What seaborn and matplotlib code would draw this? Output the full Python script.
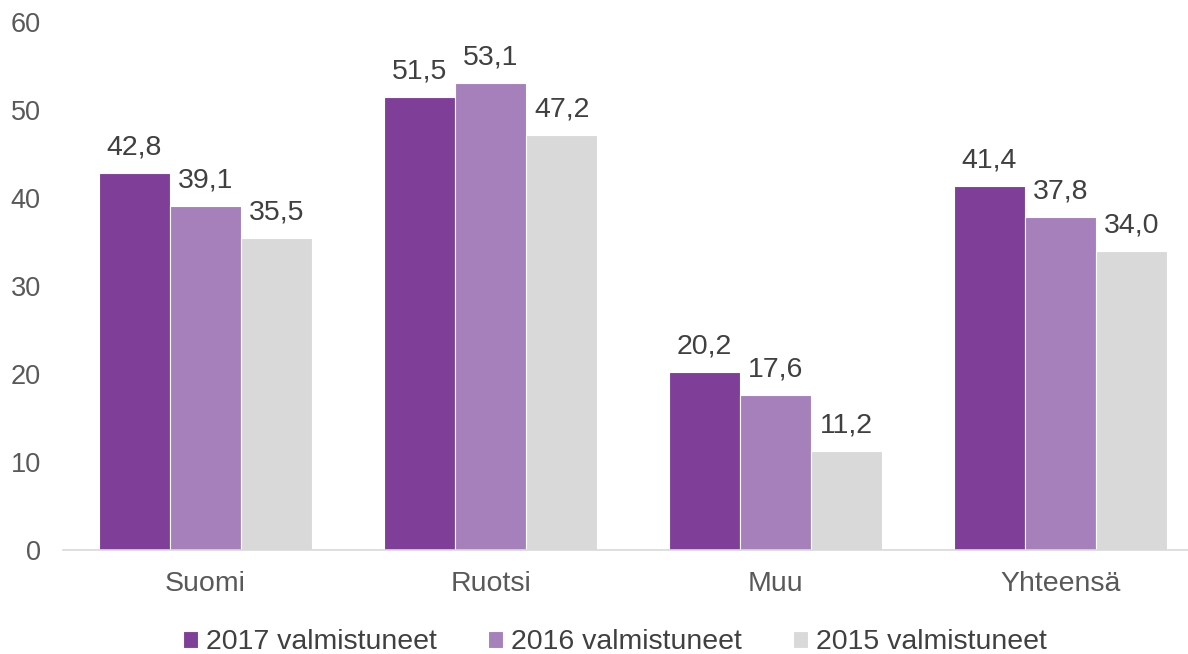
import pandas as pd
import matplotlib.pyplot as plt
import seaborn as sns

categories = ["Suomi", "Ruotsi", "Muu", "Yhteensä"]
series = ["2017 valmistuneet", "2016 valmistuneet", "2015 valmistuneet"]
values_2017 = [42.8, 51.5, 20.2, 41.4]
values_2016 = [39.1, 53.1, 17.6, 37.8]
values_2015 = [35.5, 47.2, 11.2, 34.0]
colors = ["#7F3F98", "#A680BA", "#D9D9D9"]

rows = []
for name, vals in zip(series, [values_2017, values_2016, values_2015]):
    for cat, v in zip(categories, vals):
        rows.append({"kieli": cat, "ryhma": name, "arvo": v})
df = pd.DataFrame(rows)

sns.set_style("white")
plt.rcParams['font.family'] = ['Liberation Sans', 'DejaVu Sans']

fig = plt.figure(figsize=(11.88, 6.54), dpi=100)
ax = fig.add_axes([63 / 1188, 104 / 654, 1 - 63 / 1188, (550 - 22) / 654])

sns.barplot(data=df, x="kieli", y="arvo", hue="ryhma", order=categories,
            hue_order=series, palette=colors, width=0.75, gap=0,
            saturation=1, edgecolor="white", linewidth=0.8, ax=ax, legend=True)

# arvot palkkien päälle, pilkku desimaalierottimena
for cont in ax.containers:
    ax.bar_label(cont, labels=[f"{v:.1f}".replace(".", ",") for v in cont.datavalues],
                 padding=9, fontsize=20.5, color="#404040")

ax.set_ylim(0, 60)
ax.set_xlim(-0.5, 3.447)
ax.set_yticks(range(0, 61, 10))
ax.tick_params(axis="y", labelsize=19.5, labelcolor="#595959", length=0, pad=16)
ax.tick_params(axis="x", labelsize=20.5, labelcolor="#595959", length=0, pad=15)
ax.set_xlabel("")
ax.set_ylabel("")
for s in ["top", "right", "left"]:
    ax.spines[s].set_visible(False)
ax.spines["bottom"].set_color("#D9D9D9")
ax.spines["bottom"].set_linewidth(1.2)

handles, labels = ax.get_legend_handles_labels()
ax.legend(handles, labels, loc="center", bbox_to_anchor=(0.4905, -0.175),
          ncol=3, frameon=False, fontsize=20.5, handlelength=0.53, handleheight=0.53,
          handletextpad=0.28, columnspacing=1.8, labelcolor="#404040",
          borderpad=0.1)

fig.savefig("out.png", dpi=100)
